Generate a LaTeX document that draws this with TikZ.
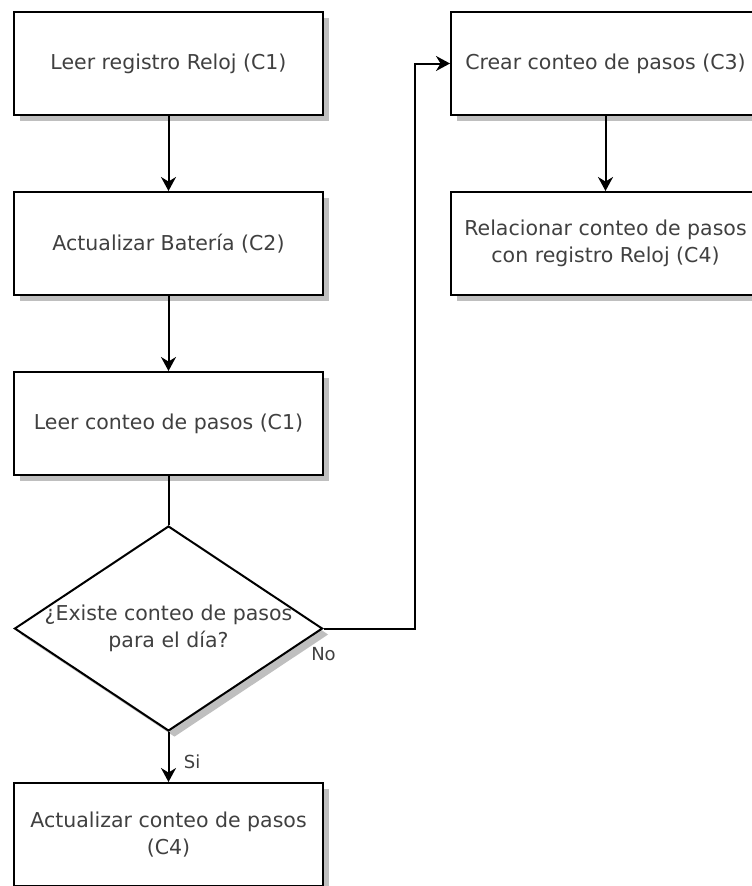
\documentclass[tikz,border=0pt]{standalone}
\usepackage{fontspec}
\setmainfont{DejaVu Sans}
\usetikzlibrary{positioning, arrows.meta, shapes.geometric, shadows}

\begin{document}
\begin{tikzpicture}[
    x=1pt, y=1pt,
    node distance=75pt,
    block/.style={rectangle, draw, line width=2pt, fill=white, minimum width=309pt, minimum height=103pt, align=center, text=black!75, font=\fontsize{20.5}{27}\selectfont, drop shadow={shadow xshift=6pt, shadow yshift=-6pt, fill=black!25, opacity=1}},
    decision/.style={diamond, draw, line width=2pt, fill=white, shape aspect=1.5, inner sep=-8pt, minimum width=308pt, minimum height=205pt, align=center, text=black!75, font=\fontsize{20.5}{27}\selectfont, drop shadow={shadow xshift=6pt, shadow yshift=-6pt, fill=black!25, opacity=1}},
    arr/.style={-{Stealth[length=14pt, width=15pt]}, line width=2pt},
    lbl/.style={text=black!75, font=\fontsize{18}{21}\selectfont}
]
\useasboundingbox (0,0) rectangle (752,-886);

% left column
\node[block] (leer) at (168.5,-63.5) {Leer registro Reloj (C1)};
\node[block, below=of leer] (bat) {Actualizar Batería (C2)};
\node[block, below=of bat] (pasos) {Leer conteo de pasos (C1)};
\node[decision, below=49pt of pasos] (dia) {¿Existe conteo de pasos\\para el día?};
\node[block, below=50pt of dia] (act) {Actualizar conteo de pasos\\(C4)};

% right column
\node[block, right=126pt of leer] (crear) {Crear conteo de pasos (C3)};
\node[block, below=of crear] (rel) {Relacionar conteo de pasos\\con registro Reloj (C4)};

% Connections
\draw[arr] (leer) -- (bat);
\draw[arr] (bat) -- (pasos);
\draw[line width=2pt] (pasos) -- (dia);
\draw[arr] (dia) -- node[lbl, right=11pt, yshift=-5pt]{Si} (act);
\draw[arr] (dia.east) -- node[lbl, at start, below=15pt]{No} ++(91pt,0) |- (crear);
\draw[arr] (crear) -- (rel);

\end{tikzpicture}
\end{document}
